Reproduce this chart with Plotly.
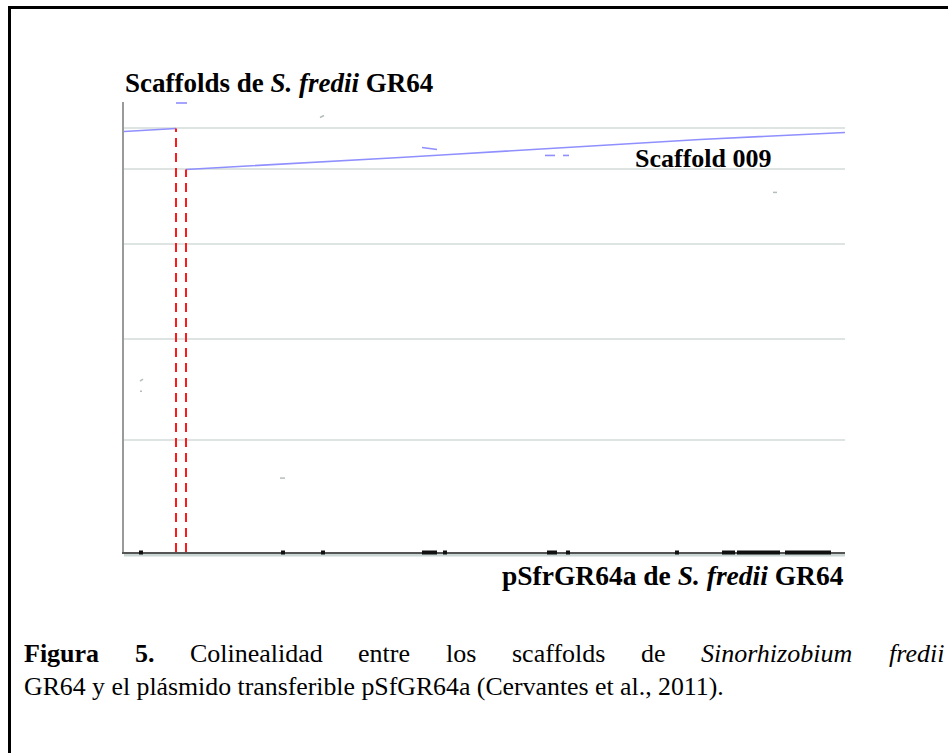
import plotly.graph_objects as go

W, H = 948, 753

# ---- data (x: position on pSfrGR64a, y: position on concatenated scaffolds; arbitrary units) ----
scaffold_bounds = [112, 213, 308, 383, 424, 450]          # scaffold boundaries (grid lines)
x_max, y_max = 721, 450

# alignment segments (blue)
seg_a_x = [0, 26, 52]
seg_a_y = [421, 422.5, 424]
seg_b_x = [62, 176, 276, 326, 376, 476, 576, 721]
seg_b_y = [383, 389, 395, 398, 401, 407, 413, 420]
short_segs = [  # (x0, x1, y0, y1)
    (52, 63, 449.5, 449.5),
    (298, 313, 405, 403),
    (421, 431, 397, 397),
    (439, 445, 397, 397),
]
# faint grey specks
specks = [
    (196, 200, 435, 437),
    (649, 653, 360, 360),
    (16, 19, 171, 173),
    (16, 18, 161, 161),
    (156, 161, 74, 74),
]
# red dashed boundaries (x, top y)
red_x = [52, 62]
red_top = [424, 383]
# black features on the plasmid axis (x0, x1)
features = [(15, 19), (157, 161), (197, 201), (298, 313), (319, 323),
            (423, 433), (442, 446), (551, 555), (598, 611), (613, 656), (661, 707)]

fig = go.Figure()

for x0, x1, y0, y1 in short_segs:
    fig.add_trace(go.Scatter(x=[x0, x1], y=[y0, y1], mode="lines",
                             line=dict(color="#8f8fff", width=1.6), showlegend=False, hoverinfo="skip"))
for x0, x1, y0, y1 in specks:
    fig.add_trace(go.Scatter(x=[x0, x1], y=[y0, y1], mode="lines",
                             line=dict(color="#b5bdbb", width=1.5), showlegend=False, hoverinfo="skip"))

fig.add_trace(go.Scatter(x=seg_a_x, y=seg_a_y, mode="lines",
                         line=dict(color="#8f8fff", width=1.6), showlegend=False, hoverinfo="skip"))
fig.add_trace(go.Scatter(x=seg_b_x, y=seg_b_y, mode="lines",
                         line=dict(color="#8f8fff", width=1.6), showlegend=False, hoverinfo="skip"))

for rx, rt in zip(red_x, red_top):
    fig.add_trace(go.Scatter(x=[rx, rx], y=[0, rt], mode="lines",
                             line=dict(color="#ff1a1a", width=2, dash="9px,6px"),
                             showlegend=False, hoverinfo="skip"))

shapes = []
# light band under the x axis
shapes.append(dict(type="line", xref="x", yref="paper", x0=0, x1=x_max,
                   y0=1 - 555 / H, y1=1 - 555 / H, line=dict(color="#c9d6d4", width=3), layer="below"))
for f0, f1 in features:
    shapes.append(dict(type="rect", xref="x", yref="paper", x0=f0, x1=f1,
                       y0=1 - 554.5 / H, y1=1 - 550.5 / H, line=dict(width=0), fillcolor="#111111"))
# outer frame
shapes.append(dict(type="rect", xref="paper", yref="paper", x0=9.5 / W, x1=1.2,
                   y0=-0.2, y1=1 - 7.5 / H, line=dict(color="black", width=3)))

FONT = "Liberation Serif, 'Times New Roman', Times, serif"
ann = []
ann.append(dict(text="<b>Scaffolds de <i>S. fredii</i> GR64</b>", x=123 / W, y=1 - 83 / H,
                xanchor="left", yanchor="middle", font=dict(size=27)))
ann.append(dict(text="<b>Scaffold 009</b>", x=633 / W, y=1 - 158 / H,
                xanchor="left", yanchor="middle", font=dict(size=26)))
ann.append(dict(text="<b>pSfrGR64a de <i>S. fredii</i> GR64</b>", x=846 / W, y=1 - 575 / H,
                xanchor="right", yanchor="middle", font=dict(size=27.5)))

# caption line 1 (justified: words placed individually)
cap_size = 26
line1_words = ["<b>Figura</b>", "<b>5.</b>", "Colinealidad", "entre", "los", "scaffolds", "de",
               "<i>Sinorhizobium</i>", "<i>fredii</i>"]
line1_em = [2.889, 0.75, 5.111, 1.999, 1.167, 3.61, 0.944, 5.834, 2.167]
left, right = 22, 943
total = sum(line1_em) * cap_size
gap = (right - left - total) / (len(line1_words) - 1)
xpos = left
for w, em in zip(line1_words, line1_em):
    ann.append(dict(text=w, x=xpos / W, y=1 - 653 / H, xanchor="left", yanchor="middle",
                    font=dict(size=cap_size)))
    xpos += em * cap_size + gap
ann.append(dict(text="GR64 y el plásmido transferible pSfGR64a (Cervantes et al., 2011).",
                x=22 / W, y=1 - 686 / H, xanchor="left", yanchor="middle", font=dict(size=25.8)))
for a in ann:
    a.update(xref="paper", yref="paper", showarrow=False)
    a["font"].update(family=FONT, color="black")

fig.update_layout(
    width=W, height=H, margin=dict(l=0, r=0, t=0, b=0),
    paper_bgcolor="white", plot_bgcolor="white",
    font=dict(family=FONT),
    shapes=shapes, annotations=ann, showlegend=False,
    xaxis=dict(domain=[124 / W, 845 / W], range=[0, x_max], showgrid=False, zeroline=False,
               showticklabels=False, ticks="", showline=True, linecolor="#555555", linewidth=2),
    yaxis=dict(domain=[1 - 552 / H, 1 - 102 / H], range=[0, y_max + 0.5], tickmode="array",
               tickvals=scaffold_bounds, showgrid=True, gridcolor="#dde4e2", gridwidth=2,
               zeroline=False, showticklabels=False, ticks="", showline=True,
               linecolor="#9a9a9a", linewidth=2),
)

fig.write_html("out.html")
